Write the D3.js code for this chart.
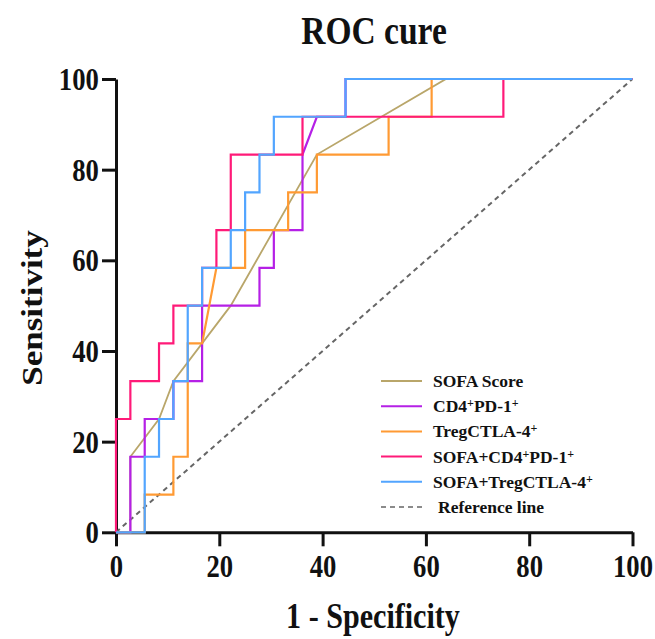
<!DOCTYPE html>
<html>
<head>
<meta charset="utf-8">
<script src="https://cdn.jsdelivr.net/npm/d3@7"></script>
<style>
  body { margin: 0; background: #fff; }
  svg text { font-family: "Liberation Serif", "Times New Roman", serif; font-weight: bold; fill: #111; }
</style>
</head>
<body>
<div id="chart"></div>
<script>
// ROC points, x = 1 - specificity (%), y = sensitivity (%)
const sofaX = [0, 2.78, 2.78, 8.33, 11.11, 22.22, 38.89, 63.89, 100];
const sofaY = [0, 0, 16.67, 25, 33.33, 50, 83.33, 100, 100];

const cd4X = [0, 2.78, 2.78, 5.56, 5.56, 11.11, 11.11, 16.67, 16.67, 27.78, 27.78, 30.56, 30.56, 36.11, 36.11, 38.89, 44.44, 44.44, 100];
const cd4Y = [0, 0, 16.67, 16.67, 25, 25, 33.33, 33.33, 50, 50, 58.33, 58.33, 66.67, 66.67, 83.33, 91.67, 91.67, 100, 100];

const tregX = [0, 5.56, 5.56, 11.11, 11.11, 13.89, 13.89, 16.67, 19.44, 25, 25, 33.33, 33.33, 38.89, 38.89, 52.78, 52.78, 61.11, 61.11, 100];
const tregY = [0, 0, 8.33, 8.33, 16.67, 16.67, 41.67, 41.67, 58.33, 58.33, 66.67, 66.67, 75, 75, 83.33, 83.33, 91.67, 91.67, 100, 100];

const sofaCd4X = [0, 0, 2.78, 2.78, 8.33, 8.33, 11.11, 11.11, 16.67, 16.67, 19.44, 19.44, 22.22, 22.22, 36.11, 36.11, 75, 75, 100];
const sofaCd4Y = [0, 25, 25, 33.33, 33.33, 41.67, 41.67, 50, 50, 58.33, 58.33, 66.67, 66.67, 83.33, 83.33, 91.67, 91.67, 100, 100];

const sofaTregX = [0, 5.56, 5.56, 8.33, 8.33, 11.11, 11.11, 13.89, 13.89, 16.67, 16.67, 22.22, 22.22, 25, 25, 27.78, 27.78, 30.56, 30.56, 44.44, 44.44, 100];
const sofaTregY = [0, 0, 16.67, 16.67, 25, 25, 33.33, 33.33, 50, 50, 58.33, 58.33, 66.67, 66.67, 75, 75, 83.33, 83.33, 91.67, 91.67, 100, 100];

const refX = [0, 100];
const refY = [0, 100];

const seriesNames = ['SOFA Score', 'CD4+PD-1+', 'TregCTLA-4+', 'SOFA+CD4+PD-1+', 'SOFA+TregCTLA-4+', 'Reference line'];
const seriesColors = ['#b9a66a', '#b520e6', '#ff9a33', '#ff1a78', '#52a5ff', '#666666'];
const xTicks = [0, 20, 40, 60, 80, 100];
const yTicks = [0, 20, 40, 60, 80, 100];

const W = 655, H = 639;
const SQ = 0.86; // the original picture is squeezed sideways

const svg = d3.select('#chart').append('svg')
  .attr('width', W)
  .attr('height', H);

const x = d3.scaleLinear().domain([0, 100]).range([116, 632.5]);
const y = d3.scaleLinear().domain([0, 100]).range([532.3, 79]);

// squeezed text helper
function sqText(px, py, size, txt, anchor) {
  return svg.append('text')
    .attr('transform', 'translate(' + px + ',' + py + ') scale(' + SQ + ',1)')
    .attr('text-anchor', anchor || 'middle')
    .style('font-size', size + 'px')
    .text(txt);
}

sqText(374, 44, 39, 'ROC cure');
sqText(373, 628, 35, '1 - Specificity');
svg.append('text')
  .attr('transform', 'translate(42,308) rotate(-90) scale(1,' + SQ + ')')
  .attr('text-anchor', 'middle')
  .style('font-size', '35px')
  .text('Sensitivity');

// axes
const xAxis = d3.axisBottom(x).tickValues(xTicks).tickSize(14).tickSizeOuter(0).tickPadding(9);
const yAxis = d3.axisLeft(y).tickValues(yTicks).tickSize(14).tickSizeOuter(0).tickPadding(6);

const gx = svg.append('g').attr('transform', 'translate(0,' + y(0) + ')').call(xAxis);
const gy = svg.append('g').attr('transform', 'translate(' + x(0) + ',0)').call(yAxis);

[gx, gy].forEach(function(g) {
  g.select('.domain').attr('stroke', '#111').attr('stroke-width', 3);
  g.selectAll('.tick line').attr('stroke', '#111').attr('stroke-width', 3);
  g.selectAll('.tick text')
    .attr('fill', '#111')
    .style('font-family', '"Liberation Serif", "Times New Roman", serif')
    .style('font-weight', 'bold')
    .style('font-size', '31px');
});
gx.selectAll('.tick text').attr('dy', '0.71em').attr('transform', 'scale(' + SQ + ',1)');
gy.selectAll('.tick text').attr('dy', '0.34em').attr('transform', 'scale(' + SQ + ',1)');

// curves
const line = d3.line().x(d => x(d[0])).y(d => y(d[1]));
const allX = [sofaX, cd4X, tregX, sofaCd4X, sofaTregX, refX];
const allY = [sofaY, cd4Y, tregY, sofaCd4Y, sofaTregY, refY];

const plot = svg.append('g');
// reference first, then the curves in legend order
plot.append('path')
  .datum(d3.zip(refX, refY))
  .attr('d', line)
  .attr('fill', 'none')
  .attr('stroke', seriesColors[5])
  .attr('stroke-width', 2)
  .attr('stroke-dasharray', '5,4');

for (let i = 0; i < 5; i++) {
  plot.append('path')
    .datum(d3.zip(allX[i], allY[i]))
    .attr('d', line)
    .attr('fill', 'none')
    .attr('stroke', seriesColors[i])
    .attr('stroke-width', i == 0 ? 1.8 : 2.2)
    .attr('stroke-linejoin', 'miter');
}

// legend
const legend = svg.append('g').attr('transform', 'translate(381,381)');
seriesNames.forEach(function(name, i) {
  const row = legend.append('g').attr('transform', 'translate(0,' + (i * 25.2) + ')');
  row.append('line')
    .attr('x1', 0).attr('x2', 41)
    .attr('y1', 0).attr('y2', 0)
    .attr('stroke', seriesColors[i])
    .attr('stroke-width', i == 5 ? 1.6 : 2)
    .attr('stroke-dasharray', i == 5 ? '5,4' : null);
  const t = row.append('text')
    .attr('x', i == 5 ? 57 : 52)
    .attr('y', 6)
    .style('font-size', '17.5px');
  // split on '+' that follows 4 or 1 into superscripts
  const parts = name.split(/(\+)/);
  let prev = '';
  parts.forEach(function(p) {
    if (p == '+' && /[41]$/.test(prev)) {
      t.append('tspan').attr('baseline-shift', '38%').style('font-size', '12px').text('+');
    } else if (p != '') {
      t.append('tspan').text(p);
    }
    prev = p;
  });
});
</script>
</body>
</html>
